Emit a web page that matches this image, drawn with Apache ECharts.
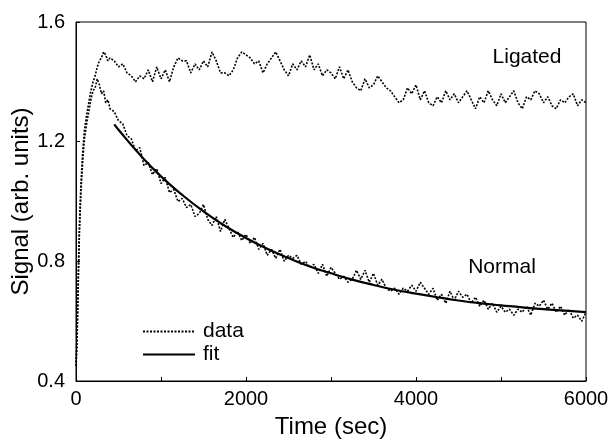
<!DOCTYPE html>
<html><head><meta charset="utf-8">
<script src="https://cdn.jsdelivr.net/npm/echarts@6/dist/echarts.min.js"></script>
<style>html,body{margin:0;padding:0;background:#fff}#c{width:612px;height:448px}</style>
</head><body><div id="c"></div>
<script>
// time samples (sec) shared by both data traces
var timeData = [0,10,20,30,40,50,60,80,100,125,150,175,200,225,250,275,300,325,350,375,400,
450,500,550,600,650,700,750,800,850,900,950,1000,1050,1100,1150,1200,1250,1300,1350,1400,1450,1500,
1550,1600,1650,1700,1750,1800,1850,1900,1950,2000,2050,2100,2150,2200,2250,2300,2350,2400,2450,2500,
2550,2600,2650,2700,2750,2800,2850,2900,2950,3000,3050,3100,3150,3200,3250,3300,3350,3400,3450,3500,
3550,3600,3650,3700,3750,3800,3850,3900,3950,4000,4050,4100,4150,4200,4250,4300,4350,4400,4450,4500,
4550,4600,4650,4700,4750,4800,4850,4900,4950,5000,5050,5100,5150,5200,5250,5300,5350,5400,5450,5500,
5550,5600,5650,5700,5750,5800,5850,5900,5950,6000];

var ligatedData = [0.45,0.53,0.66,0.80,0.92,1.00,1.07,1.17,1.24,1.29,1.33,1.37,1.40,1.42,1.45,1.47,1.48,1.50,1.49,1.47,1.48,
1.47,1.45,1.46,1.43,1.42,1.40,1.42,1.41,1.44,1.40,1.45,1.41,1.44,1.40,1.45,1.48,1.47,1.47,1.43,1.46,1.44,1.47,
1.45,1.50,1.47,1.43,1.43,1.42,1.44,1.48,1.50,1.49,1.48,1.46,1.47,1.43,1.46,1.48,1.50,1.47,1.44,1.42,
1.46,1.44,1.47,1.45,1.49,1.44,1.46,1.42,1.44,1.43,1.41,1.45,1.41,1.44,1.40,1.38,1.37,1.41,1.38,1.39,
1.42,1.40,1.38,1.37,1.35,1.33,1.34,1.38,1.36,1.39,1.34,1.37,1.33,1.32,1.35,1.33,1.37,1.34,1.36,1.33,
1.35,1.37,1.34,1.31,1.35,1.33,1.37,1.34,1.32,1.36,1.33,1.35,1.37,1.33,1.31,1.35,1.34,1.37,1.36,1.33,
1.35,1.32,1.31,1.34,1.33,1.35,1.36,1.32,1.34,1.33];

var normalData = [0.45,0.51,0.63,0.77,0.89,0.97,1.04,1.14,1.21,1.26,1.30,1.34,1.37,1.38,1.41,1.39,1.36,1.37,1.33,1.34,1.31,
1.30,1.27,1.26,1.22,1.21,1.17,1.18,1.12,1.13,1.09,1.11,1.06,1.08,1.03,1.04,1.00,1.01,0.98,0.99,0.95,0.96,0.99,
0.94,0.92,0.95,0.90,0.94,0.91,0.88,0.90,0.87,0.89,0.86,0.88,0.84,0.86,0.82,0.84,0.81,0.84,0.80,0.82,
0.81,0.82,0.79,0.80,0.78,0.79,0.76,0.79,0.75,0.78,0.76,0.74,0.75,0.73,0.74,0.77,0.74,0.77,0.73,0.76,
0.72,0.74,0.71,0.70,0.71,0.69,0.71,0.70,0.72,0.70,0.73,0.71,0.69,0.71,0.67,0.69,0.66,0.70,0.67,0.70,
0.68,0.69,0.66,0.68,0.65,0.67,0.64,0.66,0.63,0.65,0.63,0.64,0.62,0.64,0.63,0.65,0.62,0.66,0.65,0.67,
0.64,0.66,0.63,0.65,0.62,0.64,0.61,0.62,0.60,0.63];

var fitTime = [450,500,750,1000,1250,1500,1750,2000,2250,2500,2750,3000,3250,3500,3750,4000,4250,4500,4750,5000,5250,5500,5750,6000];
var fitData = [1.258,1.240,1.157,1.084,1.022,0.967,0.919,0.878,0.842,0.811,0.783,0.760,0.739,0.721,0.705,0.692,0.680,0.669,0.660,0.653,0.646,0.640,0.635,0.630];

var xTicks = [0,2000,4000,6000];
var yTicks = [0.4,0.8,1.2,1.6];

function pairs(xs, ys){ return xs.map(function(x,i){return [x, ys[i]];}); }

var FONT = '"Liberation Sans", Arial, sans-serif';
var chart = echarts.init(document.getElementById('c'), null, {renderer:'canvas'});
var dataLine = {color:'#000', width:1.6, type:[2,1.5]};
chart.setOption({
  animation:false,
  backgroundColor:'#fff',
  grid:{left:76, right:26, top:22, bottom:67, containLabel:false, outerBoundsMode:'none',
    show:true, borderColor:'#000', borderWidth:1},
  xAxis:{type:'value', min:0, max:6000, interval:2000,
    name:'Time (sec)', nameLocation:'middle', nameGap:34, nameMoveOverlap:false,
    nameTextStyle:{fontFamily:FONT, fontSize:24, color:'#000'},
    axisLine:{show:true, lineStyle:{color:'#000', width:1}},
    axisTick:{show:true, inside:true, length:4, lineStyle:{color:'#000'}},
    minorTick:{show:true, splitNumber:2, length:4, lineStyle:{color:'#000'}},
    axisLabel:{fontFamily:FONT, fontSize:20, color:'#000', margin:8,
      formatter:function(v){return xTicks.indexOf(v)>=0 ? String(v) : '';}},
    splitLine:{show:false}},
  yAxis:{type:'value', min:0.4, max:1.6, interval:0.4,
    name:'Signal (arb. units)', nameLocation:'middle', nameGap:43, nameMoveOverlap:false,
    nameTextStyle:{fontFamily:FONT, fontSize:24, color:'#000'},
    axisLine:{show:true, lineStyle:{color:'#000', width:1}},
    axisTick:{show:true, inside:true, length:4, lineStyle:{color:'#000'}},
    axisLabel:{fontFamily:FONT, fontSize:20, color:'#000', margin:11,
      formatter:function(v){var t=Math.round(v*10)/10; return yTicks.indexOf(t)>=0 ? t.toFixed(1) : '';}},
    splitLine:{show:false}},
  legend:{orient:'vertical', left:137, top:316, itemWidth:52, itemHeight:12, itemGap:2,
    itemStyle:{color:'rgba(0,0,0,0)', borderColor:'rgba(0,0,0,0)', borderWidth:0},
    data:['data','fit'], textStyle:{fontFamily:FONT, fontSize:21, lineHeight:21, color:'#000', padding:[0,0,0,3]}, selectedMode:false},
  series:[
    {name:'data', type:'line', data:pairs(timeData, ligatedData), symbol:'none', lineStyle:dataLine, color:'#000',
      markPoint:{symbol:'rect', symbolSize:0, data:[{coord:[5306,1.483], label:{show:true, formatter:'Ligated', fontFamily:FONT, fontSize:21, color:'#000'}}]}},
    {name:'data', type:'line', data:pairs(timeData, normalData), symbol:'none', lineStyle:dataLine, color:'#000',
      markPoint:{symbol:'rect', symbolSize:0, data:[{coord:[5012,0.781], label:{show:true, formatter:'Normal', fontFamily:FONT, fontSize:21, color:'#000'}}]}},
    {name:'fit', type:'line', data:pairs(fitTime, fitData), symbol:'none', smooth:true, lineStyle:{color:'#000', width:2.2, type:'solid'}, color:'#000', z:3}
  ]
});
</script></body></html>
